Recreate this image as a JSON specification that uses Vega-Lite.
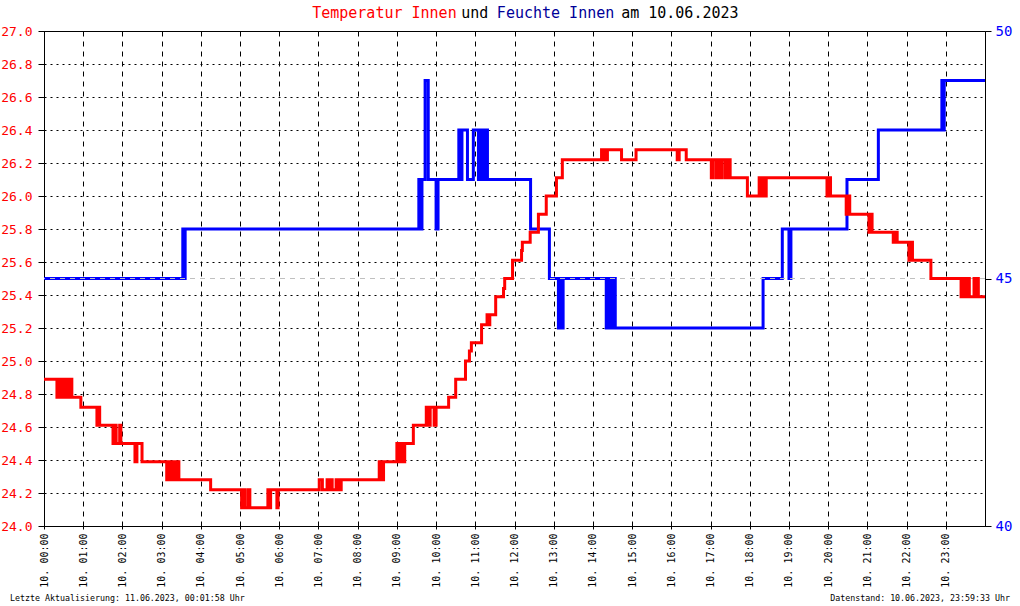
{
  "$schema": "https://vega.github.io/schema/vega-lite/v6.json",
  "width": 941,
  "height": 495,
  "autosize": {"type": "none"},
  "padding": {"left": 44, "top": 31, "right": 35, "bottom": 80},
  "background": "white",
  "config": {
    "view": {"stroke": "black", "strokeWidth": 1},
    "axis": {"domainColor": "black", "tickColor": "black", "labelFont": "DejaVu Sans Mono", "labelOverlap": false, "labelFlush": false, "labelBound": false},
    "axisLeft": {"labelOverlap": false, "labelSeparation": 0}
  },
  "datasets": {
    "temp": [
      {"h": 0, "t": 24.89},
      {"h": 0.33, "t": 24.78}, {"h": 0.36, "t": 24.89}, {"h": 0.42, "t": 24.78}, {"h": 0.46, "t": 24.89}, {"h": 0.52, "t": 24.78}, {"h": 0.56, "t": 24.89}, {"h": 0.62, "t": 24.78}, {"h": 0.66, "t": 24.89}, {"h": 0.71, "t": 24.78},
      {"h": 0.94, "t": 24.72},
      {"h": 1.35, "t": 24.61}, {"h": 1.38, "t": 24.72}, {"h": 1.42, "t": 24.61},
      {"h": 1.76, "t": 24.5}, {"h": 1.8, "t": 24.61}, {"h": 1.84, "t": 24.5}, {"h": 1.93, "t": 24.61}, {"h": 1.96, "t": 24.5},
      {"h": 2.32, "t": 24.39}, {"h": 2.37, "t": 24.5},
      {"h": 2.5, "t": 24.39},
      {"h": 3.13, "t": 24.28}, {"h": 3.17, "t": 24.39}, {"h": 3.22, "t": 24.28}, {"h": 3.28, "t": 24.39}, {"h": 3.35, "t": 24.28}, {"h": 3.4, "t": 24.39}, {"h": 3.44, "t": 24.28},
      {"h": 4.25, "t": 24.22},
      {"h": 5.04, "t": 24.11}, {"h": 5.08, "t": 24.22}, {"h": 5.12, "t": 24.11}, {"h": 5.2, "t": 24.22}, {"h": 5.25, "t": 24.11},
      {"h": 5.71, "t": 24.22}, {"h": 5.74, "t": 24.11}, {"h": 5.78, "t": 24.22},
      {"h": 5.94, "t": 24.11}, {"h": 5.97, "t": 24.22},
      {"h": 7.02, "t": 24.28}, {"h": 7.1, "t": 24.22}, {"h": 7.22, "t": 24.28}, {"h": 7.25, "t": 24.22}, {"h": 7.3, "t": 24.28}, {"h": 7.35, "t": 24.22}, {"h": 7.45, "t": 24.28}, {"h": 7.52, "t": 24.22}, {"h": 7.58, "t": 24.28},
      {"h": 8.55, "t": 24.39}, {"h": 8.6, "t": 24.28}, {"h": 8.66, "t": 24.39},
      {"h": 9.0, "t": 24.5}, {"h": 9.05, "t": 24.39}, {"h": 9.1, "t": 24.5}, {"h": 9.15, "t": 24.39}, {"h": 9.2, "t": 24.5},
      {"h": 9.42, "t": 24.61},
      {"h": 9.75, "t": 24.72}, {"h": 9.8, "t": 24.61}, {"h": 9.85, "t": 24.72}, {"h": 9.95, "t": 24.61}, {"h": 10.0, "t": 24.72},
      {"h": 10.32, "t": 24.78},
      {"h": 10.5, "t": 24.89},
      {"h": 10.75, "t": 25.0},
      {"h": 10.85, "t": 25.06}, {"h": 10.9, "t": 25.11},
      {"h": 11.16, "t": 25.22},
      {"h": 11.3, "t": 25.28}, {"h": 11.33, "t": 25.22}, {"h": 11.37, "t": 25.28},
      {"h": 11.52, "t": 25.39},
      {"h": 11.72, "t": 25.44},
      {"h": 11.75, "t": 25.5},
      {"h": 11.95, "t": 25.61},
      {"h": 12.18, "t": 25.67},
      {"h": 12.2, "t": 25.72},
      {"h": 12.4, "t": 25.78},
      {"h": 12.61, "t": 25.89},
      {"h": 12.81, "t": 26.0},
      {"h": 13.07, "t": 26.11},
      {"h": 13.22, "t": 26.22},
      {"h": 14.22, "t": 26.28}, {"h": 14.25, "t": 26.22}, {"h": 14.3, "t": 26.28}, {"h": 14.33, "t": 26.22}, {"h": 14.37, "t": 26.28},
      {"h": 14.73, "t": 26.22},
      {"h": 15.1, "t": 26.28},
      {"h": 16.15, "t": 26.22}, {"h": 16.2, "t": 26.28},
      {"h": 16.38, "t": 26.22},
      {"h": 17.02, "t": 26.11}, {"h": 17.07, "t": 26.22}, {"h": 17.15, "t": 26.11}, {"h": 17.2, "t": 26.22}, {"h": 17.25, "t": 26.11}, {"h": 17.3, "t": 26.22}, {"h": 17.38, "t": 26.11}, {"h": 17.43, "t": 26.22}, {"h": 17.5, "t": 26.11},
      {"h": 17.94, "t": 26.0},
      {"h": 18.24, "t": 26.11}, {"h": 18.28, "t": 26.0}, {"h": 18.33, "t": 26.11}, {"h": 18.37, "t": 26.0}, {"h": 18.42, "t": 26.11},
      {"h": 19.97, "t": 26.0}, {"h": 20.02, "t": 26.11}, {"h": 20.06, "t": 26.0},
      {"h": 20.46, "t": 25.89}, {"h": 20.5, "t": 26.0}, {"h": 20.55, "t": 25.89},
      {"h": 21.04, "t": 25.78}, {"h": 21.08, "t": 25.89}, {"h": 21.12, "t": 25.78},
      {"h": 21.66, "t": 25.72}, {"h": 21.7, "t": 25.78}, {"h": 21.76, "t": 25.72},
      {"h": 22.06, "t": 25.61}, {"h": 22.1, "t": 25.72}, {"h": 22.15, "t": 25.61},
      {"h": 22.62, "t": 25.5},
      {"h": 23.39, "t": 25.39}, {"h": 23.45, "t": 25.5}, {"h": 23.5, "t": 25.39}, {"h": 23.55, "t": 25.5}, {"h": 23.6, "t": 25.39}, {"h": 23.72, "t": 25.5}, {"h": 23.75, "t": 25.39}, {"h": 23.8, "t": 25.5}, {"h": 23.83, "t": 25.39},
      {"h": 24, "t": 25.39}
    ],
    "hum": [
      {"h": 0, "f": 45}, {"h": 3.54, "f": 46}, {"h": 3.57, "f": 45}, {"h": 3.6, "f": 46},
      {"h": 9.56, "f": 47}, {"h": 9.6, "f": 46}, {"h": 9.64, "f": 47},
      {"h": 9.72, "f": 49}, {"h": 9.8, "f": 47},
      {"h": 10.0, "f": 46}, {"h": 10.05, "f": 47},
      {"h": 10.58, "f": 48}, {"h": 10.62, "f": 47}, {"h": 10.66, "f": 48},
      {"h": 10.8, "f": 47},
      {"h": 10.95, "f": 48},
      {"h": 11.08, "f": 47}, {"h": 11.12, "f": 48}, {"h": 11.17, "f": 47}, {"h": 11.2, "f": 48}, {"h": 11.24, "f": 47}, {"h": 11.27, "f": 48}, {"h": 11.31, "f": 47},
      {"h": 12.41, "f": 46},
      {"h": 12.89, "f": 45},
      {"h": 13.12, "f": 44}, {"h": 13.16, "f": 45}, {"h": 13.18, "f": 44}, {"h": 13.24, "f": 45},
      {"h": 14.34, "f": 44}, {"h": 14.38, "f": 45}, {"h": 14.42, "f": 44}, {"h": 14.46, "f": 45}, {"h": 14.5, "f": 44}, {"h": 14.53, "f": 45}, {"h": 14.57, "f": 44},
      {"h": 18.34, "f": 45},
      {"h": 18.83, "f": 46},
      {"h": 19.0, "f": 45}, {"h": 19.05, "f": 46},
      {"h": 20.48, "f": 47},
      {"h": 21.28, "f": 48},
      {"h": 22.9, "f": 49}, {"h": 22.93, "f": 48}, {"h": 22.96, "f": 49},
      {"h": 24, "f": 49}
    ],
    "titleparts": [
      {"label": "Temperatur Innen", "part": "a", "pos": 6.84},
      {"label": "und", "part": "b", "pos": 10.64},
      {"label": "Feuchte Innen", "part": "c", "pos": 11.55},
      {"label": "am 10.06.2023", "part": "b", "pos": 14.72}
    ]
  },
  "layer": [
    {
      "data": {"name": "hum"},
      "mark": {"type": "line", "interpolate": "step-after", "color": "#0000ff", "strokeWidth": 3},
      "encoding": {
        "x": {"field": "h", "type": "quantitative", "scale": {"domain": [0, 24], "nice": false, "zero": false},
          "axis": {"title": null, "values": [0,1,2,3,4,5,6,7,8,9,10,11,12,13,14,15,16,17,18,19,20,21,22,23],
            "labelExpr": "'10. ' + (datum.value < 10 ? '0' : '') + datum.value + ':00'",
            "labelAngle": 270, "labelAlign": "right", "labelBaseline": "middle", "labelFontSize": 10, "labelColor": "black",
            "labelPadding": 4, "tickSize": 3, "grid": true, "gridColor": "black", "gridDash": [5, 5], "gridOpacity": 1}},
        "y": {"field": "f", "type": "quantitative", "scale": {"domain": [40, 50], "nice": false, "zero": false},
          "axis": {"title": null, "orient": "right", "values": [40, 45, 50], "labelColor": "#0000ff", "labelFontSize": 14, "tickSize": 6, "labelPadding": 4, "grid": false}}
      }
    },
    {
      "layer": [
        {
          "data": {"values": [{}]},
          "mark": {"type": "rule", "color": "#c0c0c0", "strokeDash": [5, 5], "strokeWidth": 1},
          "encoding": {"y": {"datum": 25.5, "type": "quantitative",
              "axis": {"title": null, "orient": "left", "values": [24.0,24.2,24.4,24.6,24.8,25.0,25.2,25.4,25.6,25.8,26.0,26.2,26.4,26.6,26.8,27.0],
                "format": ".1f", "labelColor": "#ff0000", "labelFontSize": 13, "tickSize": 6, "labelPadding": 6, "labelOverlap": false,
                "grid": true, "gridColor": "black", "gridDash": [2, 4], "gridOpacity": 1}}}
        },
        {
          "data": {"name": "temp"},
          "mark": {"type": "line", "interpolate": "step-after", "color": "#ff0000", "strokeWidth": 3},
          "encoding": {
            "x": {"field": "h", "type": "quantitative", "scale": {"domain": [0, 24], "nice": false, "zero": false}},
            "y": {"field": "t", "type": "quantitative", "scale": {"domain": [24, 27], "nice": false, "zero": false},
              "axis": {"title": null, "orient": "left", "values": [24.0,24.2,24.4,24.6,24.8,25.0,25.2,25.4,25.6,25.8,26.0,26.2,26.4,26.6,26.8,27.0],
                "format": ".1f", "labelColor": "#ff0000", "labelFontSize": 13, "tickSize": 6, "labelPadding": 6, "labelOverlap": false,
                "grid": true, "gridColor": "black", "gridDash": [2, 4], "gridOpacity": 1}}
          }
        },
        {
          "data": {"name": "titleparts"},
          "mark": {"type": "text", "align": "left", "baseline": "middle", "font": "DejaVu Sans Mono", "fontSize": 15},
          "encoding": {
            "x": {"field": "pos", "type": "quantitative"},
            "y": {"datum": 27.109, "type": "quantitative",
              "axis": {"title": null, "orient": "left", "values": [24.0,24.2,24.4,24.6,24.8,25.0,25.2,25.4,25.6,25.8,26.0,26.2,26.4,26.6,26.8,27.0],
                "format": ".1f", "labelColor": "#ff0000", "labelFontSize": 13, "tickSize": 6, "labelPadding": 6, "labelOverlap": false,
                "grid": true, "gridColor": "black", "gridDash": [2, 4], "gridOpacity": 1}},
            "text": {"field": "label"},
            "color": {"field": "part", "type": "nominal", "scale": {"domain": ["a", "b", "c"], "range": ["#ff0000", "#000000", "#000099"]}, "legend": null}
          }
        },
        {
          "data": {"values": [{}]},
          "mark": {"type": "text", "align": "left", "baseline": "middle", "font": "DejaVu Sans Mono", "fontSize": 8.3, "color": "black"},
          "encoding": {
            "x": {"datum": -0.867, "type": "quantitative"},
            "y": {"datum": 23.555, "type": "quantitative",
              "axis": {"title": null, "orient": "left", "values": [24.0,24.2,24.4,24.6,24.8,25.0,25.2,25.4,25.6,25.8,26.0,26.2,26.4,26.6,26.8,27.0],
                "format": ".1f", "labelColor": "#ff0000", "labelFontSize": 13, "tickSize": 6, "labelPadding": 6, "labelOverlap": false,
                "grid": true, "gridColor": "black", "gridDash": [2, 4], "gridOpacity": 1}},
            "text": {"value": "Letzte Aktualisierung: 11.06.2023, 00:01:58 Uhr"}
          }
        },
        {
          "data": {"values": [{}]},
          "mark": {"type": "text", "align": "right", "baseline": "middle", "font": "DejaVu Sans Mono", "fontSize": 8.3, "color": "black"},
          "encoding": {
            "x": {"datum": 24.638, "type": "quantitative"},
            "y": {"datum": 23.555, "type": "quantitative",
              "axis": {"title": null, "orient": "left", "values": [24.0,24.2,24.4,24.6,24.8,25.0,25.2,25.4,25.6,25.8,26.0,26.2,26.4,26.6,26.8,27.0],
                "format": ".1f", "labelColor": "#ff0000", "labelFontSize": 13, "tickSize": 6, "labelPadding": 6, "labelOverlap": false,
                "grid": true, "gridColor": "black", "gridDash": [2, 4], "gridOpacity": 1}},
            "text": {"value": "Datenstand: 10.06.2023, 23:59:33 Uhr"}
          }
        }
      ]
    }
  ],
  "resolve": {"scale": {"y": "independent", "color": "independent"}}
}
